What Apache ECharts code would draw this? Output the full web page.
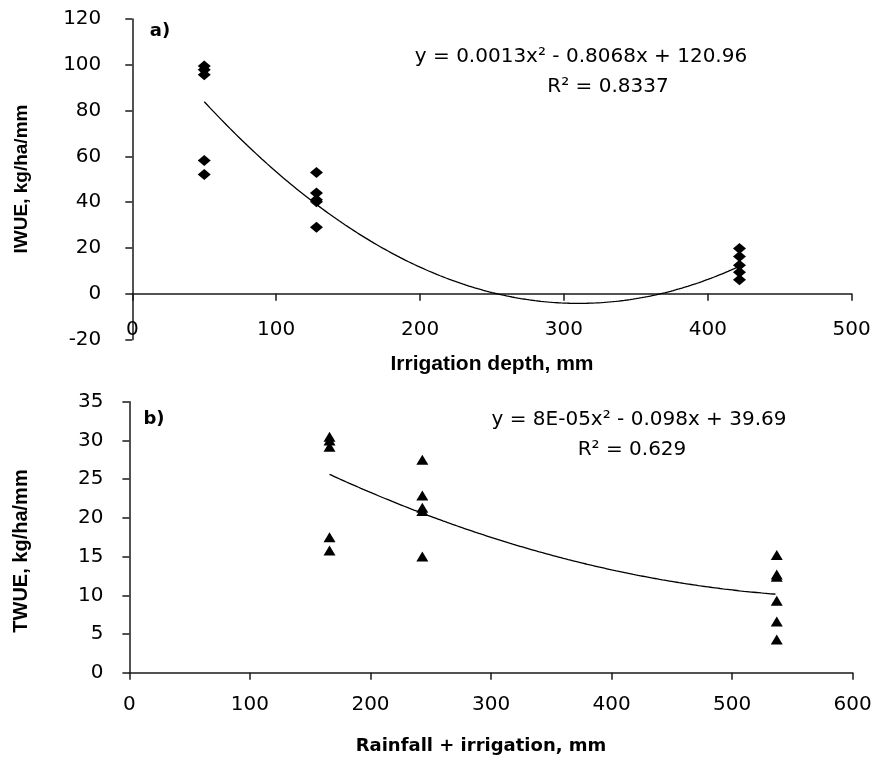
<!DOCTYPE html>
<html>
<head>
<meta charset="utf-8">
<script src="https://cdn.jsdelivr.net/npm/echarts@6/dist/echarts.min.js"></script>
<style>
  html, body { margin: 0; padding: 0; background: #fff; }
  #chart { width: 878px; height: 760px; }
</style>
</head>
<body>
<div id="chart"></div>
<script>
// Panel a) irrigation water use efficiency against irrigation depth
const irrigDepth = [50, 50, 50, 50, 50, 128, 128, 128, 128, 128, 422, 422, 422, 422, 422];
const iwue = [99.5, 97.8, 95.7, 58.2, 52.1, 53.0, 44.0, 41.0, 40.2, 29.0, 19.7, 16.3, 12.4, 9.4, 6.1];
const iwueFit = [0.0013, -0.8068, 120.96];     // quadratic trend: a, b, c
const iwueFitRange = [50, 422];
const iwueEquation = ['y = 0.0013x\u00b2 - 0.8068x + 120.96', 'R\u00b2 = 0.8337'];

// Panel b) total water use efficiency against rainfall + irrigation
const totalWater = [166, 166, 166, 166, 166, 243, 243, 243, 243, 243, 537, 537, 537, 537, 537, 537];
const twue = [30.5, 30.0, 29.2, 17.5, 15.8, 27.5, 22.9, 21.3, 20.9, 15.0, 15.2, 12.7, 12.4, 9.3, 6.6, 4.3];
const twueFit = [8e-5, -0.098, 39.69];
const twueFitRange = [166, 537];
const twueEquation = ['y = 8E-05x\u00b2 - 0.098x + 39.69', 'R\u00b2 = 0.629'];

const pairs = (xs, ys) => xs.map((x, i) => [x, ys[i]]);
function trendPoints(coef, range) {
  const pts = [];
  for (let x = range[0]; x <= range[1] + 1e-9; x += 2) {
    pts.push([x, coef[0] * x * x + coef[1] * x + coef[2]]);
  }
  return pts;
}

const tickFont = { color: '#000', fontFamily: 'DejaVu Sans', fontSize: 20 };
const axisLineStyle = { color: '#1a1a1a', width: 1.5 };

function xAxis(gridIndex, max, labelMargin) {
  return {
    type: 'value', gridIndex, min: 0, max, interval: 100,
    axisLine: { show: true, onZero: true, lineStyle: axisLineStyle },
    axisTick: { show: true, length: 7, lineStyle: axisLineStyle },
    axisLabel: Object.assign({ margin: labelMargin }, tickFont),
    splitLine: { show: false }
  };
}
function yAxis(gridIndex, min, max, interval, labelMargin) {
  return {
    type: 'value', gridIndex, min, max, interval,
    axisLine: { show: true, onZero: false, lineStyle: axisLineStyle },
    axisTick: { show: true, length: 7, lineStyle: axisLineStyle },
    axisLabel: Object.assign({ margin: labelMargin }, tickFont),
    splitLine: { show: false }
  };
}

const titleBold = (text, x, y, size, family, rot) => ({
  type: 'text', x, y, rotation: rot || 0,
  style: {
    text, fill: '#000', fontFamily: family, fontWeight: 'bold', fontSize: size,
    align: 'center', verticalAlign: 'middle'
  }
});
const plainText = (text, x, y) => ({
  type: 'text', x, y,
  style: {
    text, fill: '#000', fontFamily: 'DejaVu Sans', fontSize: 20,
    align: 'center', verticalAlign: 'middle'
  }
});

const chart = echarts.init(document.getElementById('chart'), null, { renderer: 'canvas' });
chart.setOption({
  animation: false,
  backgroundColor: '#fff',
  grid: [
    { left: 132.3, top: 19, width: 719.4, height: 320.5 },
    { left: 129.4, top: 401.8, width: 723.3, height: 270.9 }
  ],
  xAxis: [xAxis(0, 500, -20), xAxis(1, 600, 22)],
  yAxis: [yAxis(0, -20, 120, 20, 31), yAxis(1, 0, 35, 5, 26)],
  series: [
    {
      type: 'scatter', xAxisIndex: 0, yAxisIndex: 0,
      data: pairs(irrigDepth, iwue),
      symbol: 'diamond', symbolSize: [13, 11],
      itemStyle: { color: '#000', opacity: 1 }
    },
    {
      type: 'line', xAxisIndex: 0, yAxisIndex: 0,
      data: trendPoints(iwueFit, iwueFitRange),
      showSymbol: false, smooth: false,
      lineStyle: { color: '#000', width: 1.3 }
    },
    {
      type: 'scatter', xAxisIndex: 1, yAxisIndex: 1,
      data: pairs(totalWater, twue),
      symbol: 'triangle', symbolSize: [12, 10],
      itemStyle: { color: '#000', opacity: 1 }
    },
    {
      type: 'line', xAxisIndex: 1, yAxisIndex: 1,
      data: trendPoints(twueFit, twueFitRange),
      showSymbol: false, smooth: false,
      lineStyle: { color: '#000', width: 1.3 }
    }
  ],
  graphic: [
    titleBold('a)', 160, 31, 18, 'DejaVu Sans'),
    titleBold('b)', 154, 419, 18, 'DejaVu Sans'),
    titleBold('Irrigation depth, mm', 492, 364, 21, 'Liberation Sans'),
    titleBold('Rainfall + irrigation, mm', 481, 746, 18, 'DejaVu Sans'),
    titleBold('IWUE, kg/ha/mm', 22, 179, 19, 'Liberation Sans', Math.PI / 2),
    titleBold('TWUE, kg/ha/mm', 21, 551, 20, 'Liberation Sans', Math.PI / 2),
    plainText(iwueEquation[0], 581, 57),
    plainText(iwueEquation[1], 608, 87),
    plainText(twueEquation[0], 639, 420),
    plainText(twueEquation[1], 632, 450)
  ]
});
</script>
</body>
</html>
